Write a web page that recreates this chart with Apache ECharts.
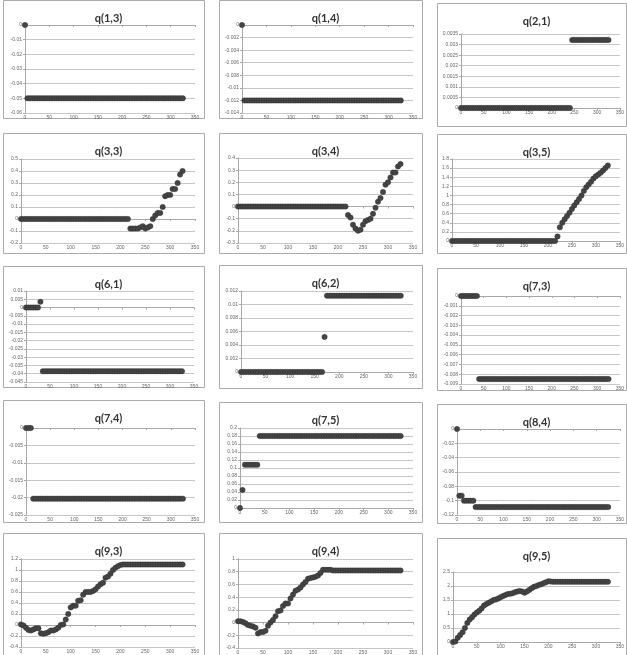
<!DOCTYPE html>
<html>
<head>
<meta charset="utf-8">
<script src="https://cdn.jsdelivr.net/npm/echarts@6/dist/echarts.min.js"></script>
<style>
    html, body { margin: 0; padding: 0; background: #fff; }
    #chart { width: 627px; height: 655px; }
</style>
</head>
<body>
<div id="chart"></div>
<script>
// iteration axis (sampled every 5 steps)
var xs = [0,5,10,15,20,25,30,35,40,45,50,55,60,65,70,75,80,85,90,95,
    100,105,110,115,120,125,130,135,140,145,150,155,160,165,170,175,180,185,190,195,
    200,205,210,215,220,225,230,235,240,245,250,255,260,265,270,275,280,285,290,295,
    300,305,310,315,320,325];

function rep(v, n) {
    var a = [];
    for (var i = 0; i < n; i++) a.push(v);
    return a;
}

var titles = ['q(1,3)','q(1,4)','q(2,1)','q(3,3)','q(3,4)','q(3,5)','q(6,1)','q(6,2)',
    'q(7,3)','q(7,4)','q(7,5)','q(8,4)','q(9,3)','q(9,4)','q(9,5)'];

var q13 = [0].concat(rep(-0.05, 65));
var q14 = [0].concat(rep(-0.012, 65));
var q21 = rep(0, 49).concat(rep(0.00322, 17));
var q33 = rep(0, 44).concat([-0.08,-0.08,-0.08,-0.08,-0.07,-0.06,-0.08,-0.07,
    -0.06,0.0,0.03,0.05,0.05,0.1,0.19,0.2,0.2,0.25,0.25,0.3,0.37,0.4]);
var q34 = rep(0, 44).concat([-0.07,-0.09,-0.15,-0.18,-0.2,-0.19,-0.15,-0.12,-0.11,-0.1,
    -0.06,-0.01,0.04,0.07,0.12,0.18,0.2,0.24,0.28,0.28,0.33,0.35]);
var q35 = rep(0, 44).concat([0.1,0.3,0.4,0.48,0.55,0.62,0.7,0.78,0.85,0.92,1.0,
    1.1,1.18,1.24,1.3,1.37,1.42,1.46,1.5,1.55,1.6,1.66]);
var q61 = rep(0, 6).concat([0.0035]).concat(rep(-0.0385, 59));
var q62 = rep(0, 34).concat([0.0052]).concat(rep(0.0113, 31));
var q73 = rep(0, 8).concat(rep(-0.0085, 58));
var q74 = rep(0, 3).concat(rep(-0.0203, 63));
var q75 = [0, 0.045].concat(rep(0.108, 6)).concat(rep(0.18, 58));
var q84 = [0, -0.093, -0.093].concat(rep(-0.1, 5)).concat(rep(-0.109, 58));
var q93 = [0.01,-0.01,-0.05,-0.09,-0.1,-0.08,-0.06,-0.06,-0.15,-0.16,-0.15,-0.13,-0.1,-0.1,
    -0.08,-0.05,0,0.01,0.1,0.2,0.32,0.35,0.35,0.44,0.45,0.55,0.6,0.6,0.6,0.62,0.65,0.7,
    0.74,0.77,0.86,0.88,0.93,1.0,1.04,1.07,1.09].concat(rep(1.1, 25));
var q94 = [0.02,0.02,0.01,-0.01,-0.04,-0.05,-0.06,-0.08,-0.17,-0.15,-0.15,-0.13,-0.05,0,
    0.04,0.1,0.18,0.19,0.26,0.3,0.3,0.38,0.44,0.5,0.52,0.55,0.6,0.64,0.69,0.7,0.71,0.72,
    0.74,0.78,0.83,0.83,0.83,0.83].concat(rep(0.82, 28));
var q95 = [0,0.02,0.15,0.25,0.35,0.5,0.68,0.8,0.88,0.98,1.05,1.12,1.2,1.3,1.36,1.4,1.45,
    1.5,1.52,1.55,1.6,1.64,1.68,1.71,1.72,1.74,1.78,1.8,1.82,1.8,1.76,1.8,1.86,1.92,1.97,
    2.0,2.04,2.06,2.1,2.13,2.17,2.16].concat(rep(2.15, 24));

var series_y = [q13,q14,q21,q33,q34,q35,q61,q62,q73,q74,q75,q84,q93,q94,q95];

// y axis ticks: [min, max, step]
var yTicks = [
    [-0.06, 0, 0.01], [-0.014, 0, 0.002], [0, 0.0035, 0.0005],
    [-0.2, 0.5, 0.1], [-0.3, 0.4, 0.1], [0, 1.8, 0.2],
    [-0.045, 0.01, 0.005], [0, 0.012, 0.002], [-0.009, 0, 0.001],
    [-0.025, 0, 0.005], [0, 0.2, 0.02], [-0.12, 0, 0.02],
    [-0.4, 1.2, 0.2], [-0.4, 1, 0.2], [0, 2.5, 0.5]
];
var xTicks = [0, 350, 50];

// panel layout: box [x, y, w, h], plot [x1, x2, y1, y2]
var boxes = [
    [3,0,201,118], [219,0,203,118], [437,3,189,123],
    [3,133,201,120], [219,133,203,120], [437,134,189,119],
    [3,266,201,121], [219,265,203,123], [437,268,189,122],
    [3,400,201,122], [219,402,203,120], [437,404,189,119],
    [3,533,201,122], [219,533,203,122], [437,538,189,117]
];
var plots = [
    [25,195,25,113], [242,413,25,113], [461,622,34,108],
    [21,195,159,243], [238,413,158,243], [452,622,159,241],
    [26,194,291,382], [241,413,291,372], [461,622,296,384],
    [26,195,428,515], [240,413,428,508], [457,622,429,515],
    [21,195,559,647], [238,413,559,648], [453,622,572,642]
];

var myChart = echarts.init(document.getElementById('chart'));
var option = {
    backgroundColor: '#fff',
    animation: false,
    title: [], grid: [], xAxis: [], yAxis: [], series: [], graphic: []
};

for (var i = 0; i < titles.length; i++) {
    var b = boxes[i], p = plots[i];
    option.graphic.push({
        type: 'rect', z: -10, silent: true,
        shape: { x: b[0] + 0.5, y: b[1] + 0.5, width: b[2], height: b[3] },
        style: { fill: '#fff', stroke: '#ababab', lineWidth: 1 }
    });
    option.title.push({
        text: titles[i],
        left: b[0] + b[2] / 2, top: b[1] + 8, textAlign: 'center',
        textStyle: { fontFamily: 'Lato', fontWeight: 'bold', fontSize: 11, color: '#333' }
    });
    option.grid.push({ left: p[0], top: p[2], width: p[1] - p[0], height: p[3] - p[2] });
    option.xAxis.push({
        type: 'value', gridIndex: i,
        min: xTicks[0], max: xTicks[1], interval: xTicks[2],
        axisLine: { onZero: true, lineStyle: { color: '#a8a8a8', width: 1 } },
        axisTick: { show: true, length: 2, lineStyle: { color: '#a8a8a8' } },
        axisLabel: { fontSize: 5, color: '#666', margin: 2, fontFamily: 'Liberation Sans' },
        splitLine: { show: false }
    });
    option.yAxis.push({
        type: 'value', gridIndex: i,
        min: yTicks[i][0], max: yTicks[i][1], interval: yTicks[i][2],
        axisLine: { show: true, onZero: false, lineStyle: { color: '#a8a8a8', width: 1 } },
        axisTick: { show: true, length: 2, lineStyle: { color: '#a8a8a8' } },
        axisLabel: { fontSize: 5, color: '#666', margin: 3, fontFamily: 'Liberation Sans' },
        splitLine: { show: true, lineStyle: { color: '#c6c6c6', width: 1 } }
    });
    var pts = [];
    for (var k = 0; k < xs.length; k++) {
        pts.push([xs[k], series_y[i][k]]);
    }
    option.series.push({
        type: 'scatter', xAxisIndex: i, yAxisIndex: i,
        symbol: 'circle', symbolSize: 5.5,
        itemStyle: { color: '#444', borderColor: '#2a2a2a', borderWidth: 0.3, opacity: 1 },
        data: pts
    });
}

myChart.setOption(option);
</script>
</body>
</html>
